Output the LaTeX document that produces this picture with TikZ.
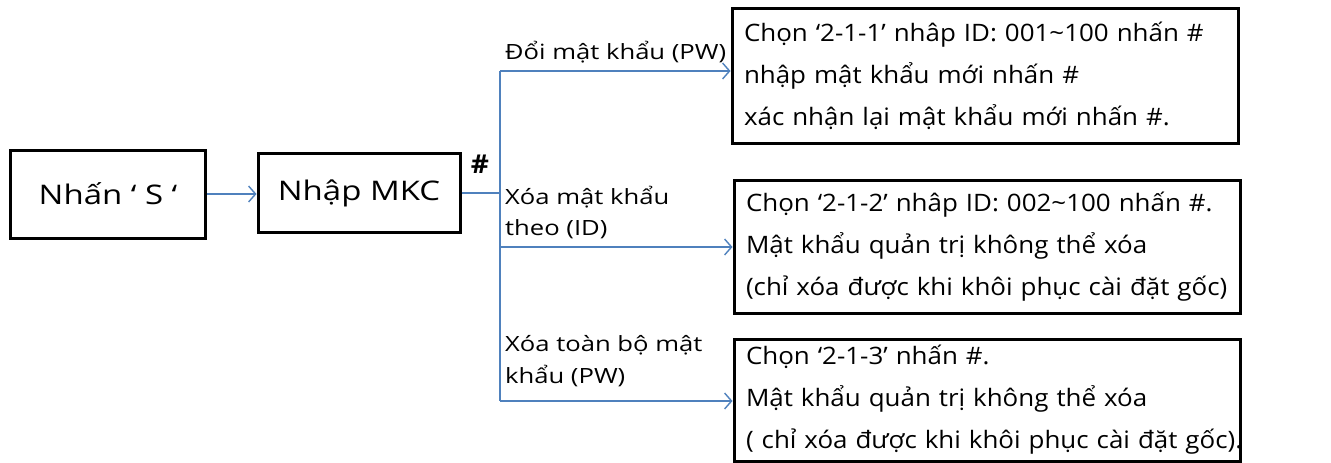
\documentclass[tikz,border=0pt]{standalone}
\usepackage{fontspec}
\setmainfont[FakeStretch=1.08]{Open Sans}
\newfontfamily\widefont[FakeStretch=1.22]{Open Sans}
\usetikzlibrary{arrows.meta}
\definecolor{lnblue}{RGB}{79,129,189}
\begin{document}
\begin{tikzpicture}[x=1pt,y=-1pt,
  box/.style={draw=black, line width=3pt, rectangle, inner sep=0pt},
  tbox/.style={box, align=left, text width=482pt, font=\fontsize{24}{42}\selectfont},
  sbox/.style={box, font=\widefont\fontsize{27}{30}\selectfont},
  conn/.style={draw=lnblue, line width=1.4pt},
  arr/.style={conn, -{Straight Barb[length=7pt,width=16pt,line width=1.4pt]}},
  lbl/.style={font=\widefont\fontsize{21}{31.5}\selectfont, anchor=west, align=left, inner sep=0pt}]
\useasboundingbox (0,0) rectangle (1331,463);
\node[sbox, minimum width=195pt, minimum height=88pt] (s) at (108,194) {Nhấn ‘ S ‘};
\node[sbox, minimum width=202pt, minimum height=79pt] (mkc) at (359,193) {Nhập MKC};
\node[tbox, minimum width=506pt, minimum height=135pt] (b1) at (985,75.5) {\mbox{Chọn ‘2-1-1’ nhâp ID: 001\textasciitilde100 nhấn \#}\\\mbox{nhập mật khẩu mới nhấn \#}\\\mbox{xác nhận lại mật khẩu mới nhấn \#.}};
\node[tbox, minimum width=506pt, minimum height=133pt] (b2) at (987,246.5) {\mbox{Chọn ‘2-1-2’ nhâp ID: 002\textasciitilde100 nhấn \#.}\\\mbox{Mật khẩu quản trị không thể xóa}\\\mbox{(chỉ xóa được khi khôi phục cài đặt gốc)}};
\node[tbox, minimum width=506pt, minimum height=122pt] (b3) at (987,400) {\mbox{Chọn ‘2-1-3’ nhấn \#.}\\\mbox{Mật khẩu quản trị không thể xóa}\\\mbox{( chỉ xóa được khi khôi phục cài đặt gốc).}};
\node[font=\fontsize{26}{28}\selectfont\bfseries, inner sep=0pt] (hash) at (480,164) {\#};
\coordinate (j) at (500,193);
\coordinate (t1) at (500,71);
\coordinate (t2) at (500,247);
\coordinate (t3) at (500,401);
\draw[arr] (s.east) -- (s.east -| mkc.west);
\draw[conn] (mkc.east) -- (j);
\draw[conn] (t1) -- (t3);
\draw[arr] (t1) -- (t1 -| b1.west);
\draw[arr] (t2) -- (t2 -| b2.west);
\draw[arr] (t3) -- (t3 -| b3.west);
\node[lbl] (l1) at (505,52) {Đổi mật khẩu (PW)};
\node[lbl] (l2) at (505,212.5) {Xóa mật khẩu\\theo (ID)};
\node[lbl] (l3) at (505,361) {Xóa toàn bộ mật\\khẩu (PW)};
\end{tikzpicture}
\end{document}
